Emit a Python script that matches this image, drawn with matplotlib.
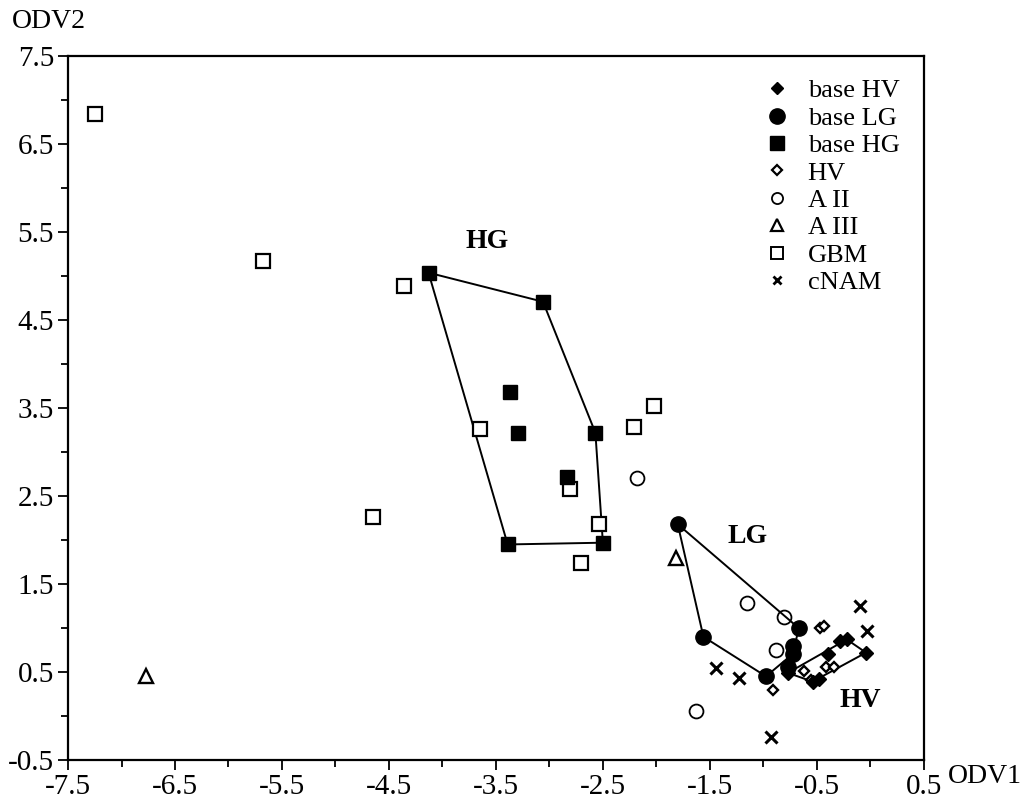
import matplotlib.pyplot as plt
from matplotlib.lines import Line2D
from matplotlib.ticker import MultipleLocator

plt.rcParams['font.family'] = ['Liberation Serif', 'DejaVu Serif']

# data
base_hv_x = [-0.77, -0.28, -0.22, -0.04, -0.40, -0.54, -0.48]
base_hv_y = [0.49, 0.85, 0.87, 0.72, 0.70, 0.39, 0.42]

base_lg_x = [-1.80, -1.56, -0.67, -0.72, -0.72, -0.975, -0.77]
base_lg_y = [2.18, 0.90, 1.00, 0.79, 0.71, 0.45, 0.56]

base_hg_x = [-4.13, -3.06, -3.37, -3.29, -2.57, -2.84, -3.39, -2.50]
base_hg_y = [5.04, 4.71, 3.68, 3.22, 3.22, 2.72, 1.95, 1.97]

hv_x = [-0.47, -0.43, -0.62, -0.41, -0.34, -0.91, -0.55]
hv_y = [1.00, 1.02, 0.51, 0.56, 0.56, 0.30, 0.41]

a2_x = [-2.18, -1.15, -0.81, -0.88, -1.63]
a2_y = [2.71, 1.28, 1.12, 0.75, 0.06]

a3_x = [-6.77, -1.82]
a3_y = [0.45, 1.80]

gbm_x = [-7.25, -5.68, -4.36, -3.65, -4.65, -2.02, -2.21, -2.81, -2.54, -2.70]
gbm_y = [6.84, 5.17, 4.89, 3.26, 2.26, 3.52, 3.29, 2.58, 2.18, 1.74]

cnam_x = [-0.10, -0.03, -1.44, -1.23, -0.93]
cnam_y = [1.25, 0.97, 0.55, 0.43, -0.24]

# hull vertices (indices into the base lists)
hg_hull = [0, 1, 4, 7, 6, 0]
lg_hull = [0, 2, 4, 5, 1, 0]
hv_hull = [0, 2, 3, 5, 0]

fig = plt.figure(figsize=(10.31, 8.05), dpi=100)
ax = fig.add_axes([0.066, 0.056, 0.83, 0.874])

for hx, hy, idx in [(base_hg_x, base_hg_y, hg_hull),
                    (base_lg_x, base_lg_y, lg_hull),
                    (base_hv_x, base_hv_y, hv_hull)]:
    ax.plot([hx[i] for i in idx], [hy[i] for i in idx], color='black', lw=1.4, zorder=1)

k = dict(ls='none', color='black')
ax.plot(gbm_x, gbm_y, marker='s', ms=10, mfc='white', mew=1.6, zorder=2, **k)
ax.plot(a2_x, a2_y, marker='o', ms=10, mfc='none', mew=1.3, zorder=2, **k)
ax.plot(a3_x, a3_y, marker='^', ms=10, mfc='white', mew=1.7, zorder=2, **k)
ax.plot(cnam_x, cnam_y, marker='x', ms=8, mew=2.2, zorder=2, **k)
ax.plot(hv_x, hv_y, marker='D', ms=5.5, mfc='white', mew=1.7, zorder=3, **k)
ax.plot(base_hg_x, base_hg_y, marker='s', ms=10, zorder=3, **k)
ax.plot(base_lg_x, base_lg_y, marker='o', ms=11, zorder=3, **k)
ax.plot(base_hv_x, base_hv_y, marker='D', ms=7, zorder=4, **k)

ax.text(-3.58, 5.39, 'HG', fontsize=20, fontweight='bold', ha='center', va='center')
ax.text(-1.15, 2.04, 'LG', fontsize=20, fontweight='bold', ha='center', va='center')
ax.text(-0.09, 0.18, 'HV', fontsize=20, fontweight='bold', ha='center', va='center')

ax.set_xlim(-7.5, 0.5)
ax.set_ylim(-0.5, 7.5)
ax.xaxis.set_minor_locator(MultipleLocator(0.5))
ax.yaxis.set_minor_locator(MultipleLocator(0.5))
ax.set_xticks([-7.5 + i for i in range(9)])
ax.set_yticks([-0.5 + i for i in range(9)])
ax.set_xticklabels(['%g' % (-7.5 + i) for i in range(9)])
ax.set_yticklabels(['%g' % (-0.5 + i) for i in range(9)])
ax.tick_params(which='both', direction='out', width=1.3, labelsize=21)
ax.tick_params(which='major', length=7, pad=3)
ax.tick_params(which='minor', length=5)
for s in ax.spines.values():
    s.set_linewidth(1.6)

handles = [
    Line2D([], [], marker='D', ms=6, **k),
    Line2D([], [], marker='o', ms=11, **k),
    Line2D([], [], marker='s', ms=10, **k),
    Line2D([], [], marker='D', ms=5, mfc='white', mew=1.6, **k),
    Line2D([], [], marker='o', ms=8, mfc='white', mew=1.3, **k),
    Line2D([], [], marker='^', ms=8, mfc='white', mew=1.6, **k),
    Line2D([], [], marker='s', ms=8, mfc='white', mew=1.4, **k),
    Line2D([], [], marker='x', ms=6, mew=2, **k),
]
labels = ['base HV', 'base LG', 'base HG', 'HV', 'A II', 'A III', 'GBM', 'cNAM']
ax.legend(handles, labels, loc='upper left', bbox_to_anchor=(0.815, 0.968),
          frameon=False, fontsize=19, handlelength=0.9, handletextpad=0.7,
          labelspacing=0.15, borderpad=0, borderaxespad=0)

fig.text(0.012, 0.973, 'ODV2', fontsize=20, va='center', ha='left')
fig.text(0.919, 0.036, 'ODV1', fontsize=20, va='center', ha='left')

fig.savefig('out.png', dpi=100)
